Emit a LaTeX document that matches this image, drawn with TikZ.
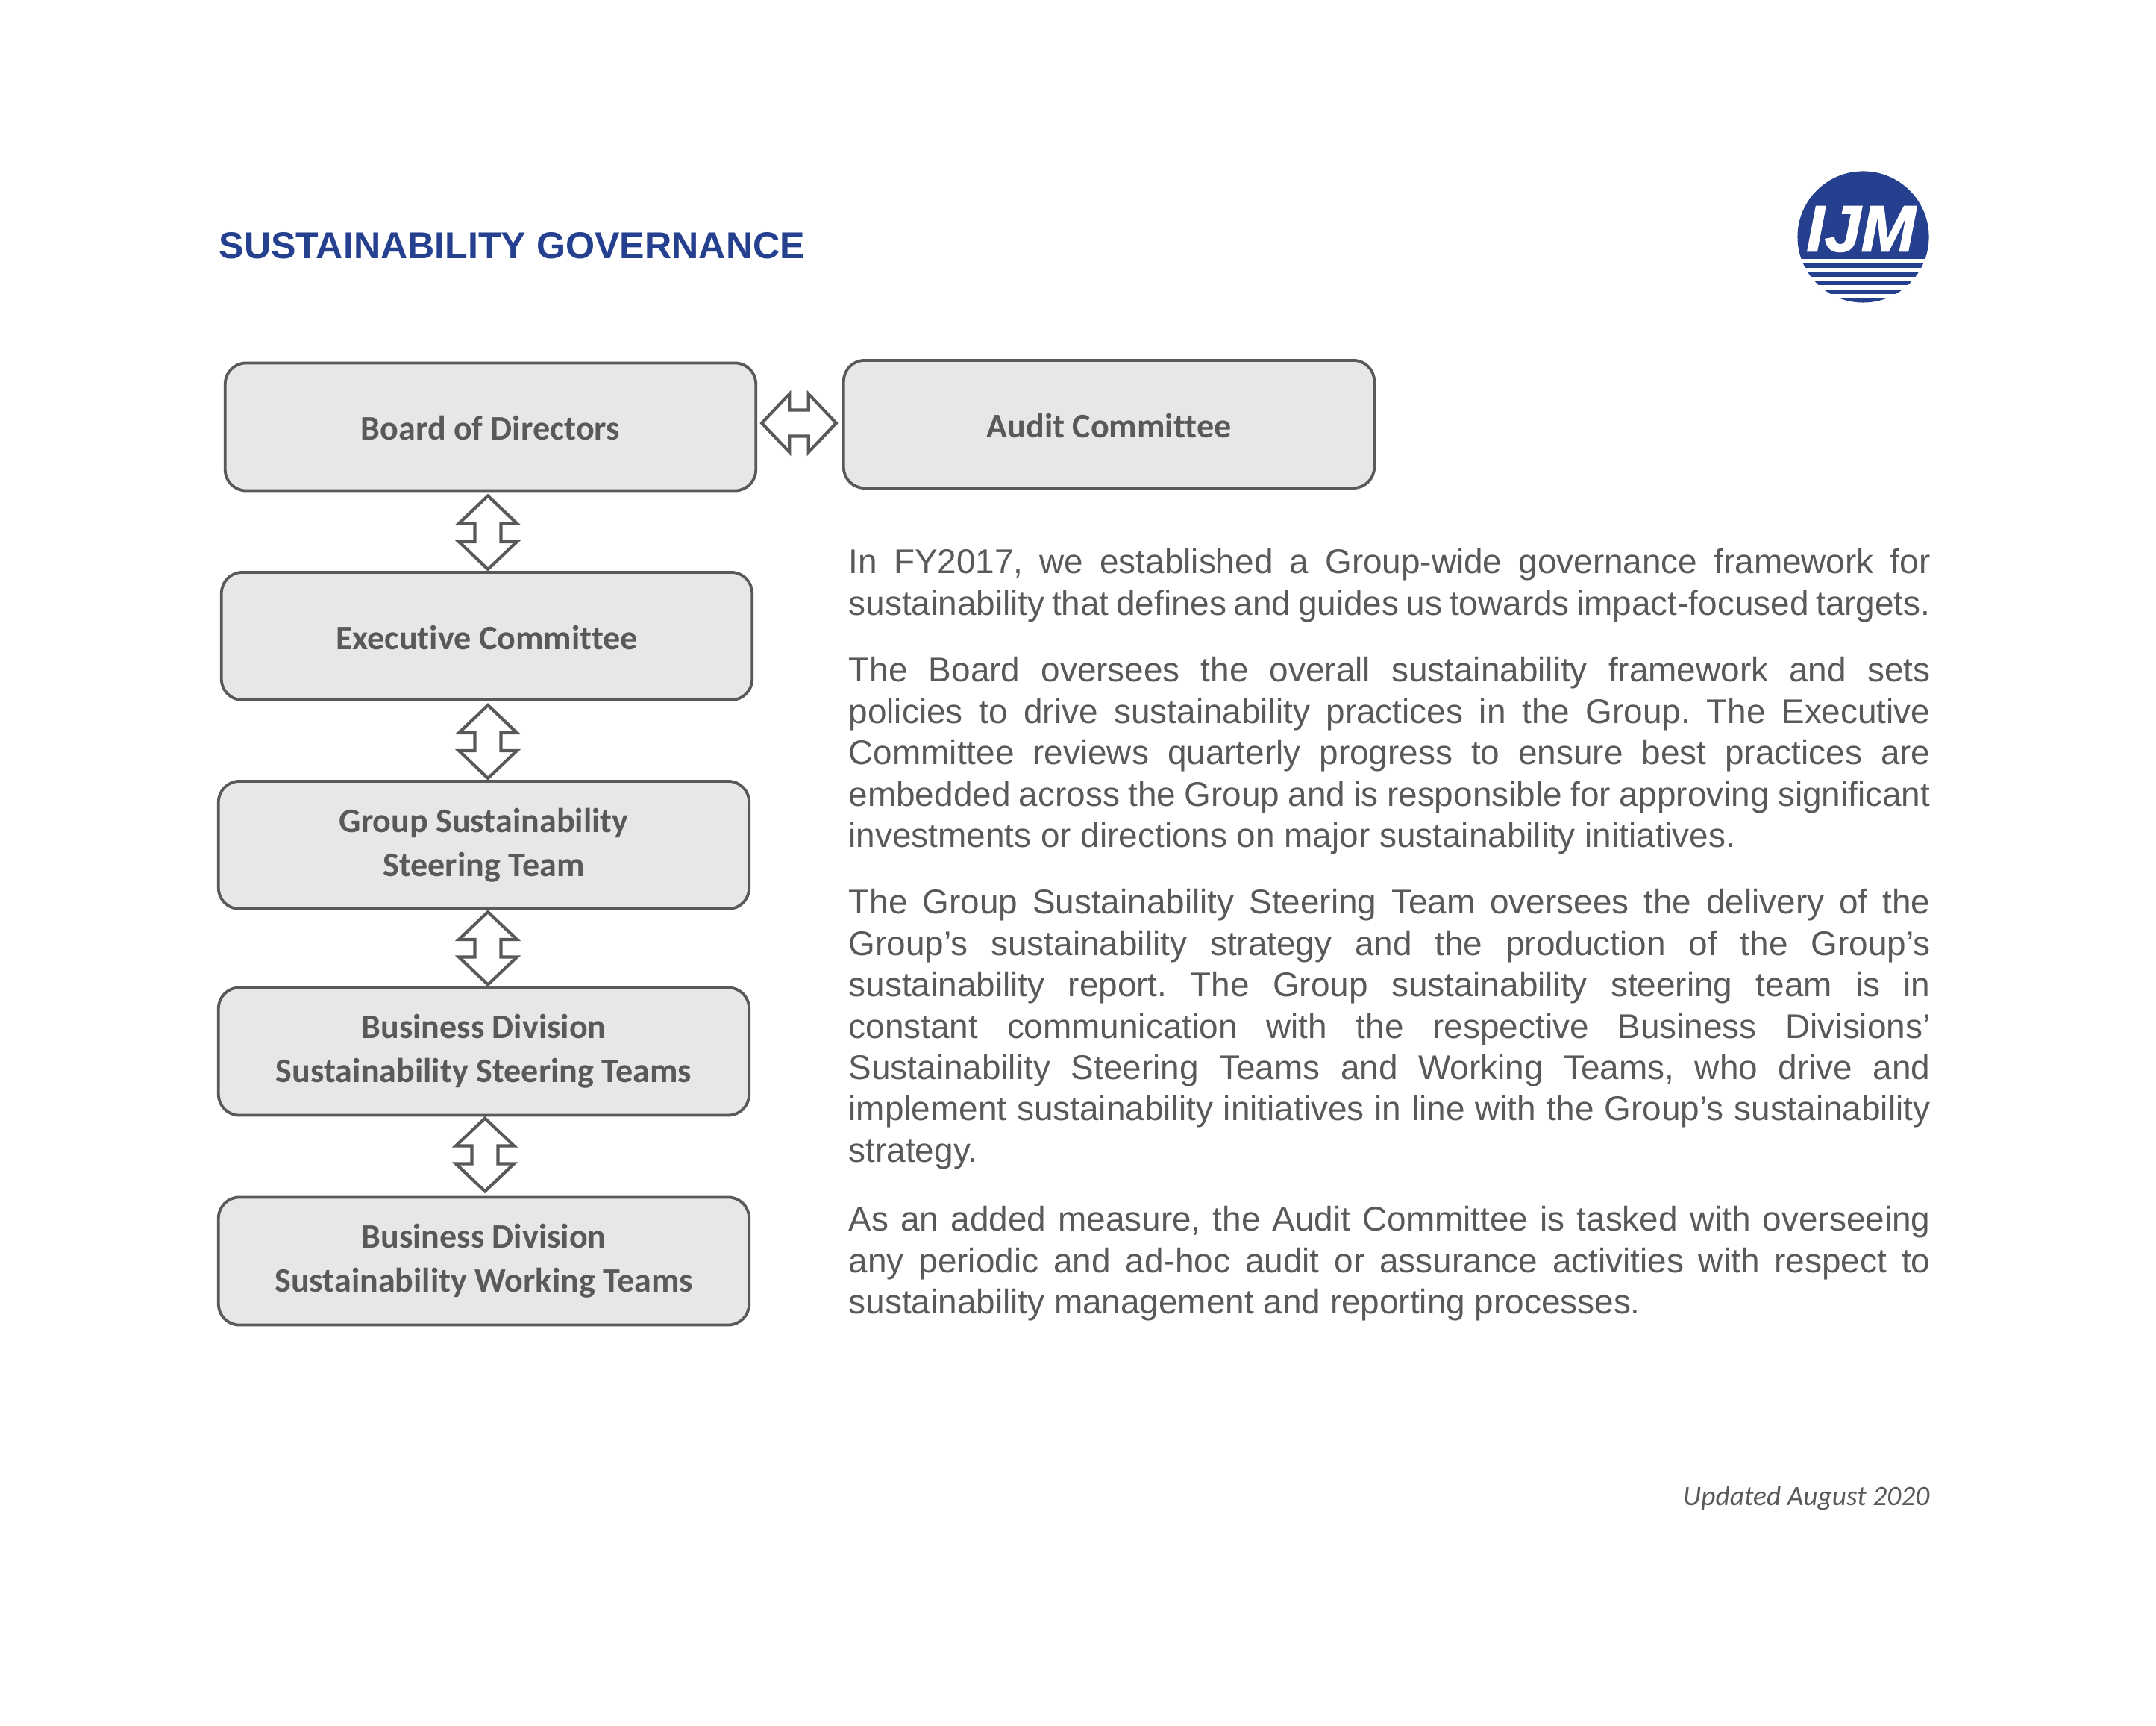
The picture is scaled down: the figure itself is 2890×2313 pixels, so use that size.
\documentclass[tikz,border=0pt]{standalone}
\usepackage{fontspec}
\setmainfont{Liberation Sans}
\newfontfamily\boxfont[Ligatures=NoCommon]{Carlito}
\newfontfamily\logofont[FakeBold=1.5]{Liberation Sans Bold Italic}
\usetikzlibrary{calc, positioning}

\definecolor{ijmBlue}{HTML}{25408F}
\definecolor{boxGrey}{HTML}{E6E7E8}
\definecolor{lineGrey}{HTML}{58595B}

\frenchspacing

\begin{document}
\begin{tikzpicture}[
    x=0.01cm, y=-0.01cm,
    block/.style={draw=lineGrey, rectangle, rounded corners=0.28cm, line width=0.038cm, fill=boxGrey,
        minimum width=7.11cm, minimum height=1.71cm, align=center, outer sep=0pt, text=lineGrey,
        execute at begin node={\rule{0pt}{0.36cm}},
        font=\boxfont\bfseries\fontsize{13.1}{16.8}\selectfont},
    paraStyle/.style={anchor=north west, inner sep=0pt, text width=14.49cm, align=justify, text=lineGrey,
        font=\fontsize{13.05}{15.75}\selectfont},
    hollowArrow/.style={draw=lineGrey, line width=0.042cm, fill=white, line join=miter, to path={
        -- ($(\tikztostart)!0.37cm!(\tikztotarget)!0.39cm!90:(\tikztotarget)$)
        -- ($(\tikztostart)!0.37cm!(\tikztotarget)!0.175cm!90:(\tikztotarget)$)
        -- ($(\tikztotarget)!0.37cm!(\tikztostart)!0.175cm!-90:(\tikztostart)$)
        -- ($(\tikztotarget)!0.37cm!(\tikztostart)!0.39cm!-90:(\tikztostart)$)
        -- (\tikztotarget)
        -- ($(\tikztotarget)!0.37cm!(\tikztostart)!0.39cm!90:(\tikztostart)$)
        -- ($(\tikztotarget)!0.37cm!(\tikztostart)!0.175cm!90:(\tikztostart)$)
        -- ($(\tikztostart)!0.37cm!(\tikztotarget)!0.175cm!-90:(\tikztotarget)$)
        -- ($(\tikztostart)!0.37cm!(\tikztotarget)!0.39cm!-90:(\tikztotarget)$)
        -- cycle}}
]
\useasboundingbox (0, 0) rectangle (2890, 2313);

% ----------------------------------------------------
% Heading & logo
% ----------------------------------------------------
\node[anchor=west, inner sep=0pt, text=ijmBlue, font=\bfseries\fontsize{14.27}{17}\selectfont] (Title) at (293, 329) {SUSTAINABILITY GOVERNANCE};

\fill[ijmBlue] (2497.5, 317.5) circle (0.88cm);
\begin{scope}
    \clip (2497.5, 317.5) circle (0.885cm);
    \foreach \top/\bottom in {347.5/353.5, 359/364.5, 371/376, 382.5/389, 394/399.5}
        \fill[white] (2400, \top) rectangle (2600, \bottom);
\end{scope}
\node[inner sep=0pt, text=white, font=\logofont\fontsize{25}{26}\selectfont] (Logo) at (2494.5, 307) {IJM};

% ----------------------------------------------------
% Committee boxes
% ----------------------------------------------------
\node[block] (Board) at (657.5, 572) {Board of Directors};
\node[block] (Audit) at (1486.5, 568.5) {Audit Committee};
\node[block] (Exec) at (652.5, 852.5) {Executive Committee};
\node[block] (Group) at (648.5, 1132.5) {Group Sustainability\\Steering Team};
\node[block] (DivSteer) at (648.5, 1409) {Business Division\\Sustainability Steering Teams};
\node[block] (DivWork) at (648.5, 1690) {Business Division\\Sustainability Working Teams};

% Hollow double arrows (ends pulled off the box edges)
\draw[hollowArrow] ([shift={(8, -5)}]Board.east) to ([shift={(-10, -1.5)}]Audit.west);
\draw[hollowArrow] ([shift={(-3.5, 7)}]Board.south) to ([shift={(1.5, -4)}]Exec.north);
\draw[hollowArrow] ([shift={(1.5, 7)}]Exec.south) to ([shift={(5.5, -4)}]Group.north);
\draw[hollowArrow] ([shift={(5.5, 4)}]Group.south) to ([shift={(5.5, -4)}]DivSteer.north);
\draw[hollowArrow] ([shift={(1.5, 4)}]DivSteer.south) to ([shift={(1.5, -8)}]DivWork.north);

% ----------------------------------------------------
% Text column
% ----------------------------------------------------
\node[paraStyle] (ParaOne) at (1137, 735) {In FY2017, we established a Group-wide governance framework for\linebreak sustainability that defines and guides us towards impact-focused targets.};

\node[paraStyle] (ParaTwo) at (1137, 880) {The Board oversees the overall sustainability framework and sets\linebreak policies to drive sustainability practices in the Group. The Executive\linebreak Committee reviews quarterly progress to ensure best practices are\linebreak embedded across the Group and is responsible for approving significant\linebreak investments or directions on major sustainability initiatives.};

\node[paraStyle] (ParaThree) at (1137, 1191) {The Group Sustainability Steering Team oversees the delivery of the\linebreak Group’s sustainability strategy and the production of the Group’s\linebreak sustainability report. The Group sustainability steering team is in\linebreak constant communication with the respective Business Divisions’\linebreak Sustainability Steering Teams and Working Teams, who drive and\linebreak implement sustainability initiatives in line with the Group’s sustainability\linebreak strategy.};

\node[paraStyle] (ParaFour) at (1137, 1616) {As an added measure, the Audit Committee is tasked with overseeing\linebreak any periodic and ad-hoc audit or assurance activities with respect to\linebreak sustainability management and reporting processes.};

\node[anchor=east, inner sep=0pt, text=lineGrey, font=\boxfont\itshape\fontsize{10.65}{13}\selectfont] (Updated) at (2587, 2008) {Updated August 2020};

\end{tikzpicture}
\end{document}
